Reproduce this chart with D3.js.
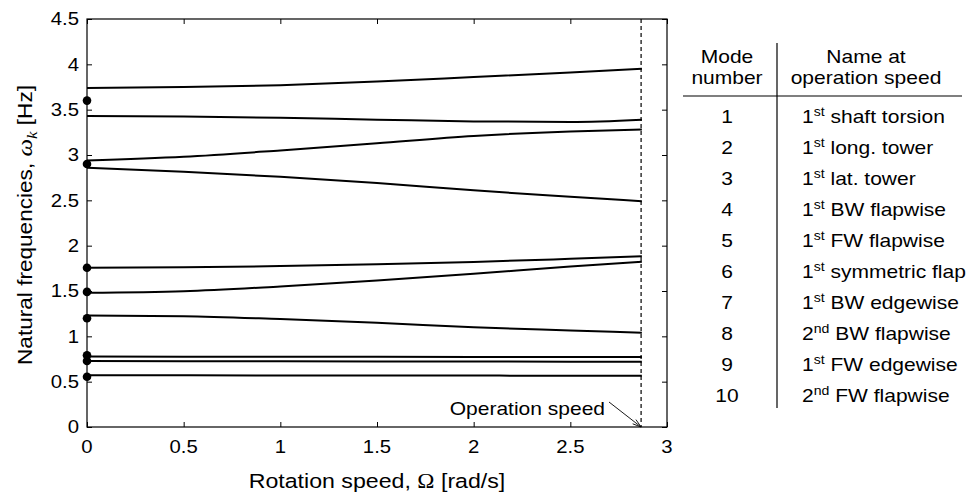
<!DOCTYPE html>
<html>
<head>
<meta charset="utf-8">
<script src="https://cdn.jsdelivr.net/npm/d3@7"></script>
<style>
  html, body { margin: 0; padding: 0; background: #fff; }
  svg { display: block; }
  text { font-family: "Liberation Sans", Arial, Helvetica, sans-serif; fill: #000; }
</style>
</head>
<body>
<svg id="chart" width="972" height="496"></svg>
<script>
// ---------- data ----------
const omega = [0, 0.5, 1.0, 1.5, 2.0, 2.5, 2.87];
const mode1  = [0.570, 0.570, 0.569, 0.568, 0.567, 0.566, 0.566];
const mode2  = [0.728, 0.726, 0.724, 0.723, 0.722, 0.721, 0.720];
const mode3  = [0.777, 0.776, 0.775, 0.774, 0.773, 0.772, 0.772];
const mode4  = [1.230, 1.222, 1.190, 1.150, 1.100, 1.065, 1.040];
const mode5  = [1.480, 1.497, 1.550, 1.615, 1.690, 1.770, 1.823];
const mode6  = [1.757, 1.761, 1.775, 1.795, 1.820, 1.855, 1.883];
const mode7  = [2.860, 2.815, 2.760, 2.690, 2.610, 2.540, 2.490];
const mode8  = [2.940, 2.980, 3.050, 3.130, 3.210, 3.260, 3.280];
const mode9  = [3.430, 3.425, 3.410, 3.390, 3.370, 3.365, 3.390];
const mode10 = [3.740, 3.750, 3.770, 3.810, 3.860, 3.910, 3.950];
const standstillFreqs = [0.555, 0.728, 0.790, 1.200, 1.490, 1.757, 2.900, 3.600];
const operationSpeed = 2.866;
const xTicks = [0, 0.5, 1, 1.5, 2, 2.5, 3];
const yTicks = [0, 0.5, 1, 1.5, 2, 2.5, 3, 3.5, 4, 4.5];
const modeNumbers = ["1","2","3","4","5","6","7","8","9","10"];
const ordinals = ["1","1","1","1","1","1","1","2","1","2"];
const ordinalSuffix = ["st","st","st","st","st","st","st","nd","st","nd"];
const modeNames = ["shaft torsion","long. tower","lat. tower","BW flapwise","FW flapwise",
                   "symmetric flap","BW edgewise","BW flapwise","FW edgewise","FW flapwise"];

const allModes = [mode1, mode2, mode3, mode4, mode5, mode6, mode7, mode8, mode9, mode10];

// ---------- layout ----------
const svg = d3.select("#chart");
const L = 87, R = 667, T = 19, B = 427;
const x = d3.scaleLinear().domain([0, 3]).range([L, R]);
const y = d3.scaleLinear().domain([0, 4.5]).range([B, T]);
const SX = 1.13;           // horizontal glyph stretch seen in the reference
const fmt = d3.format("~g");

function label(parent, tx, ty, anchor, size, rot) {
  return parent.append("text")
    .attr("transform", `translate(${tx},${ty})` + (rot ? ` rotate(${rot})` : "") + ` scale(${SX},1)`)
    .attr("text-anchor", anchor).attr("font-size", size);
}

// frame
svg.append("rect").attr("x", L).attr("y", T).attr("width", R - L).attr("height", B - T)
  .attr("fill", "none").attr("stroke", "#000").attr("stroke-width", 1.2);

// ticks (inward on all four sides)
const axes = [
  svg.append("g").attr("transform", `translate(0,${B})`).call(d3.axisBottom(x).tickValues(xTicks).tickSize(-5).tickFormat("")),
  svg.append("g").attr("transform", `translate(0,${T})`).call(d3.axisTop(x).tickValues(xTicks).tickSize(-5).tickFormat("")),
  svg.append("g").attr("transform", `translate(${L},0)`).call(d3.axisLeft(y).tickValues(yTicks).tickSize(-5).tickFormat("")),
  svg.append("g").attr("transform", `translate(${R},0)`).call(d3.axisRight(y).tickValues(yTicks).tickSize(-5).tickFormat(""))
];
axes.forEach(g => {
  g.select(".domain").remove();
  g.selectAll(".tick line").attr("stroke", "#000").attr("stroke-width", 1);
  g.selectAll(".tick text").remove();
});
// tick labels
xTicks.forEach(v => label(svg, x(v), 453, "middle", 18).text(fmt(v)));
yTicks.forEach(v => label(svg, 79, y(v) + 6.4, "end", 18).text(fmt(v)));

// dashed operation line
svg.append("line")
  .attr("x1", x(operationSpeed)).attr("x2", x(operationSpeed))
  .attr("y1", T).attr("y2", B)
  .attr("stroke", "#000").attr("stroke-width", 1.2).attr("stroke-dasharray", "4,3");

// curves
const line = d3.line().x((d, i) => x(omega[i])).y(d => y(d)).curve(d3.curveMonotoneX);
svg.append("g").selectAll("path").data(allModes).join("path")
  .attr("d", line).attr("fill", "none").attr("stroke", "#000").attr("stroke-width", 2);

// standstill dots
svg.append("g").selectAll("circle").data(standstillFreqs).join("circle")
  .attr("cx", x(0)).attr("cy", d => y(d)).attr("r", 4.3).attr("fill", "#000");

// annotation
label(svg, 605, 415, "end", 18.6).text("Operation speed");
const ax1 = 609, ay1 = 402, ax2 = x(operationSpeed), ay2 = B;
svg.append("line").attr("x1", ax1).attr("y1", ay1).attr("x2", ax2).attr("y2", ay2)
  .attr("stroke", "#000").attr("stroke-width", 0.9);
const ang = Math.atan2(ay2 - ay1, ax2 - ax1);
const hl = 9, ha = 0.3;
svg.append("path")
  .attr("d", `M${ax2 - hl*Math.cos(ang-ha)},${ay2 - hl*Math.sin(ang-ha)} L${ax2},${ay2} L${ax2 - hl*Math.cos(ang+ha)},${ay2 - hl*Math.sin(ang+ha)}`)
  .attr("fill", "none").attr("stroke", "#000").attr("stroke-width", 0.9);

// axis titles
const serif = "'Liberation Serif', 'Times New Roman', serif";
const xt = label(svg, (L + R) / 2, 488, "middle", 20.5);
xt.append("tspan").text("Rotation speed, ");
xt.append("tspan").attr("font-family", serif).text("Ω");
xt.append("tspan").text(" [rad/s]");

const yt = label(svg, 32, (T + B) / 2 + 2, "middle", 20, -90);
yt.append("tspan").text("Natural frequencies, ");
yt.append("tspan").attr("font-family", serif).attr("font-style", "italic").attr("font-size", 22).text("ω");
yt.append("tspan").attr("font-family", serif).attr("font-style", "italic")
  .attr("font-size", 15).attr("dy", 5).text("k");
yt.append("tspan").attr("dy", -5).text(" [Hz]");

// ---------- table ----------
const tbl = svg.append("g");
const colNum = 727, colDiv = 777, colName = 802, nameHead = 866;
tbl.append("line").attr("x1", colDiv).attr("x2", colDiv).attr("y1", 43).attr("y2", 408)
  .attr("stroke", "#000").attr("stroke-width", 1.2);
tbl.append("line").attr("x1", 683).attr("x2", 962).attr("y1", 96).attr("y2", 96)
  .attr("stroke", "#000").attr("stroke-width", 1.2);
const hfs = 18.6;
[["Mode", colNum, 63], ["number", colNum, 84], ["Name at", nameHead, 63], ["operation speed", nameHead, 84]]
  .forEach(([t, cx, cy]) => label(tbl, cx, cy, "middle", hfs).text(t));
modeNumbers.forEach((m, i) => {
  const by = 123 + 31 * i;
  label(tbl, colNum, by, "middle", hfs).text(m);
  const t = label(tbl, colName, by, "start", hfs);
  t.append("tspan").text(ordinals[i]);
  t.append("tspan").attr("font-size", 12.5).attr("dy", -7).text(ordinalSuffix[i]);
  t.append("tspan").attr("dy", 7).text(" " + modeNames[i]);
});
</script>
</body>
</html>
